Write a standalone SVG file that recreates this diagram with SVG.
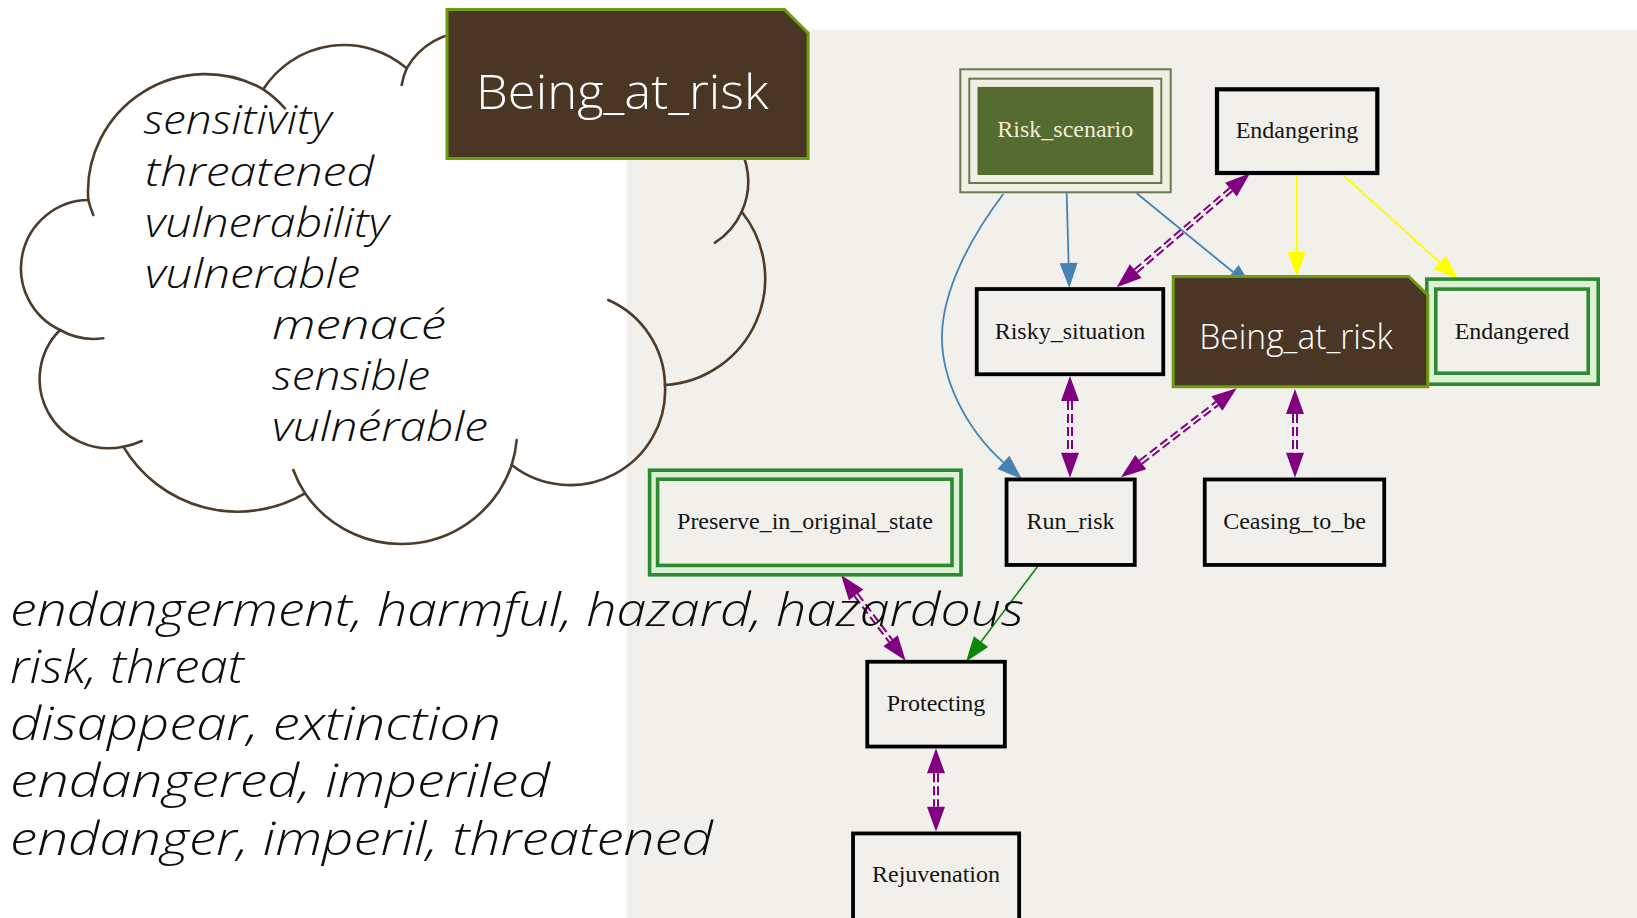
<svg xmlns="http://www.w3.org/2000/svg" width="1637" height="918" viewBox="0 0 1637 918">
  <style>
    .paper { fill: #f2f0eb; }
    .e-blue { fill: none; stroke: #4682b4; stroke-width: 1.8; marker-end: url(#ah-blue); }
    .e-yellow { fill: none; stroke: #ffff00; stroke-width: 1.8; marker-end: url(#ah-yellow); }
    .e-green { fill: none; stroke: #0b880b; stroke-width: 1.6; marker-end: url(#ah-green); }
    .e-purple { fill: none; stroke: #800080; stroke-width: 6; stroke-dasharray: 9 4; marker-start: url(#ah-purple); marker-end: url(#ah-purple); }
    .e-gap { fill: none; stroke: #f2f0eb; stroke-width: 2; }
    .box { fill: #f2f0eb; stroke: #000; stroke-width: 3.8; }
    .gout { fill: #ddefd4; stroke: #2e8a32; stroke-width: 3.6; }
    .gin { fill: #f2f0eb; stroke: #2e8a32; stroke-width: 3.6; }
    .lbl { font-family: "Liberation Serif", "Times New Roman", serif; font-size: 24px; text-anchor: middle; fill: #141414; }
    .frame { fill: #4a3624; stroke: #6f9c0c; stroke-width: 3; }
    .frame-txt { font-family: "Open Sans", "DejaVu Sans", sans-serif; font-weight: 350; fill: #ffffff; }
    .cloud { fill: none; stroke: #4d3c2c; stroke-width: 2.6; stroke-linecap: round; }
    .word { font-family: "Open Sans", "DejaVu Sans", sans-serif; font-style: italic; font-weight: 350; fill: #0d0d0d; }
  </style>
  <defs>
    <marker id="ah-blue" markerUnits="userSpaceOnUse" markerWidth="25" markerHeight="18" refX="0" refY="9" orient="auto" overflow="visible">
      <path d="M0,0 L25,9 L0,18 Z" fill="#4682b4"/>
    </marker>
    <marker id="ah-yellow" markerUnits="userSpaceOnUse" markerWidth="25" markerHeight="18" refX="0" refY="9" orient="auto" overflow="visible">
      <path d="M0,0 L25,9 L0,18 Z" fill="#ffff00"/>
    </marker>
    <marker id="ah-green" markerUnits="userSpaceOnUse" markerWidth="25" markerHeight="18" refX="0" refY="9" orient="auto" overflow="visible">
      <path d="M0,0 L25,9 L0,18 Z" fill="#0b880b"/>
    </marker>
    <marker id="ah-purple" markerUnits="userSpaceOnUse" markerWidth="25" markerHeight="18" refX="0" refY="9" orient="auto-start-reverse" overflow="visible">
      <path d="M0,0 L25,9 L0,18 Z" fill="#800080"/>
    </marker>
  </defs>

  <!-- page and graph panel -->
  <rect x="0" y="0" width="1637" height="918" fill="#ffffff"/>
  <rect class="paper" x="626.7" y="30" width="1010.3" height="888"/>

  <!-- connectors -->
  <g id="connectors">
    <!-- purple double dashed, arrow at both ends -->
    <g id="purple-links">
      <path class="e-purple" d="M1135.7,271.05 L1231,189.55"/>
      <path class="e-gap" d="M1135.7,271.05 L1231,189.55"/>
      <path class="e-purple" d="M1070,401 L1070,452.7"/>
      <path class="e-gap" d="M1070,401 L1070,452.7"/>
      <path class="e-purple" d="M1140.8,462.1 L1216.9,403.5"/>
      <path class="e-gap" d="M1140.8,462.1 L1216.9,403.5"/>
      <path class="e-purple" d="M1295,414 L1295,452.7"/>
      <path class="e-gap" d="M1295,414 L1295,452.7"/>
      <path class="e-purple" d="M856.1,594.95 L890.6,640.75"/>
      <path class="e-gap" d="M856.1,594.95 L890.6,640.75"/>
      <path class="e-purple" d="M936,773.3 L936,806.7"/>
      <path class="e-gap" d="M936,773.3 L936,806.7"/>
    </g>
    <path class="e-blue" d="M1066.7,193.3 L1068.6,263"/>
    <path class="e-blue" d="M1136.7,193.3 L1233,272"/>
    <path class="e-blue" d="M1003.3,194 C970,238 943,290 942,335 C941,378 965,428 1003.4,462.4"/>
    <path class="e-yellow" d="M1296.7,175 L1296.7,252"/>
    <path class="e-yellow" d="M1343,175 L1439.8,262.5"/>
    <path class="e-green" d="M1037.4,566.7 L981,641.7"/>
  </g>

  <!-- graph nodes -->
  <g id="node-risk-scenario">
    <rect x="960.3" y="69.3" width="210.4" height="123" fill="#eff0e3" stroke="#6b7751" stroke-width="2"/>
    <rect x="969.3" y="78.7" width="192" height="104.3" fill="none" stroke="#6b7751" stroke-width="2"/>
    <rect x="977.5" y="86.9" width="175.8" height="88.1" fill="#556b2f"/>
    <text class="lbl" x="1065.3" y="137" style="fill:#efeed8">Risk_scenario</text>
  </g>
  <g id="node-endangering">
    <rect class="box" x="1217" y="89.3" width="160.3" height="83.7" style="stroke-width:4.2"/>
    <text class="lbl" x="1297" y="138">Endangering</text>
  </g>
  <g id="node-risky-situation">
    <rect class="box" x="976.75" y="289.05" width="186.5" height="85.2"/>
    <text class="lbl" x="1070" y="338.5">Risky_situation</text>
  </g>
  <g id="node-endangered">
    <rect class="gout" x="1426.8" y="279.1" width="171.4" height="105.1"/>
    <rect class="gin" x="1435.8" y="289.1" width="152.4" height="84.1"/>
    <text class="lbl" x="1512" y="338.5">Endangered</text>
  </g>
  <g id="node-being-at-risk-graph">
    <path class="frame" d="M1173.2,276.5 L1408.7,276.5 L1427.8,295 L1427.8,386.8 L1173.2,386.8 Z"/>
    <text class="frame-txt" x="1199.3" y="349.3" font-size="34" textLength="193.4" lengthAdjust="spacingAndGlyphs">Being_at_risk</text>
  </g>
  <g id="node-run-risk">
    <rect class="box" x="1006.55" y="479.45" width="128.2" height="85.5"/>
    <text class="lbl" x="1070.6" y="529">Run_risk</text>
  </g>
  <g id="node-ceasing-to-be">
    <rect class="box" x="1204.75" y="479.45" width="179.5" height="85.5"/>
    <text class="lbl" x="1294.5" y="529">Ceasing_to_be</text>
  </g>
  <g id="node-preserve">
    <rect class="gout" x="649.6" y="470.2" width="311.4" height="104.6"/>
    <rect class="gin" x="657.6" y="479.2" width="294.4" height="86.2"/>
    <text class="lbl" x="805" y="529">Preserve_in_original_state</text>
  </g>
  <g id="node-protecting">
    <rect class="box" x="867.25" y="661.75" width="137.6" height="84.8"/>
    <text class="lbl" x="936" y="711">Protecting</text>
  </g>
  <g id="node-rejuvenation">
    <rect class="box" x="853.05" y="833.45" width="166.1" height="100"/>
    <text class="lbl" x="936" y="882">Rejuvenation</text>
  </g>

  <!-- thought cloud -->
  <g id="cloud">
    <path class="cloud" d="M60,330 A68.3,68.3 0 0 1 88.3,200 A117.5,117.5 0 0 1 263.3,89.3 A95.8,95.8 0 0 1 406.7,68.3 A72,72 0 0 1 471.1,31.7 L722.3,126 A72.7,72.7 0 0 1 741.7,211.7 A106.7,106.7 0 0 1 665,385 A95,95 0 0 1 511.7,465 A116.7,116.7 0 0 1 305,493.3 A133,133 0 0 1 123.3,446.7 A69.2,69.2 0 0 1 60,330 Z"/>
    <path class="cloud" d="M103.3,338.3 A68.3,68.3 0 0 1 60,330 M93.3,215 A117.5,117.5 0 0 1 88.3,200 M263.3,89.3 A117.5,117.5 0 0 1 285,108.3 M401.7,85 A72,72 0 0 1 406.7,68.3 M741.7,211.7 A72.7,72.7 0 0 1 715,242.7 M608.3,300 A95,95 0 0 1 665,385 M516.7,440 A116.7,116.7 0 0 1 511.7,465 M305,493.3 A116.7,116.7 0 0 1 293.3,470 M141.7,441 A69.2,69.2 0 0 1 123.3,446.7"/>
    <text class="word" font-size="41" x="143.5" y="134" textLength="188" lengthAdjust="spacingAndGlyphs">sensitivity</text>
    <text class="word" font-size="41" x="145" y="186" textLength="229" lengthAdjust="spacingAndGlyphs">threatened</text>
    <text class="word" font-size="41" x="145" y="237" textLength="244" lengthAdjust="spacingAndGlyphs">vulnerability</text>
    <text class="word" font-size="41" x="145" y="288" textLength="215" lengthAdjust="spacingAndGlyphs">vulnerable</text>
    <text class="word" font-size="41" x="272" y="339" textLength="174" lengthAdjust="spacingAndGlyphs">menacé</text>
    <text class="word" font-size="41" x="272" y="390" textLength="158" lengthAdjust="spacingAndGlyphs">sensible</text>
    <text class="word" font-size="41" x="272" y="441" textLength="216" lengthAdjust="spacingAndGlyphs">vulnérable</text>
  </g>

  <!-- title frame -->
  <g id="node-being-at-risk-title">
    <path class="frame" d="M447,9.4 L784.5,9.4 L808.1,33 L808.1,158.5 L447,158.5 Z"/>
    <text class="frame-txt" x="476" y="108.5" font-size="47" textLength="292.5" lengthAdjust="spacingAndGlyphs">Being_at_risk</text>
  </g>

  <!-- related words -->
  <g id="word-list">
    <text class="word" font-size="46" x="10" y="625.5" textLength="1014" lengthAdjust="spacingAndGlyphs">endangerment, harmful, hazard, hazardous</text>
    <text class="word" font-size="46" x="10" y="682.7" textLength="234" lengthAdjust="spacingAndGlyphs">risk, threat</text>
    <text class="word" font-size="46" x="10" y="740" textLength="491" lengthAdjust="spacingAndGlyphs">disappear, extinction</text>
    <text class="word" font-size="46" x="10" y="797.2" textLength="540" lengthAdjust="spacingAndGlyphs">endangered, imperiled</text>
    <text class="word" font-size="46" x="10" y="854.5" textLength="703" lengthAdjust="spacingAndGlyphs">endanger, imperil, threatened</text>
  </g>
</svg>
